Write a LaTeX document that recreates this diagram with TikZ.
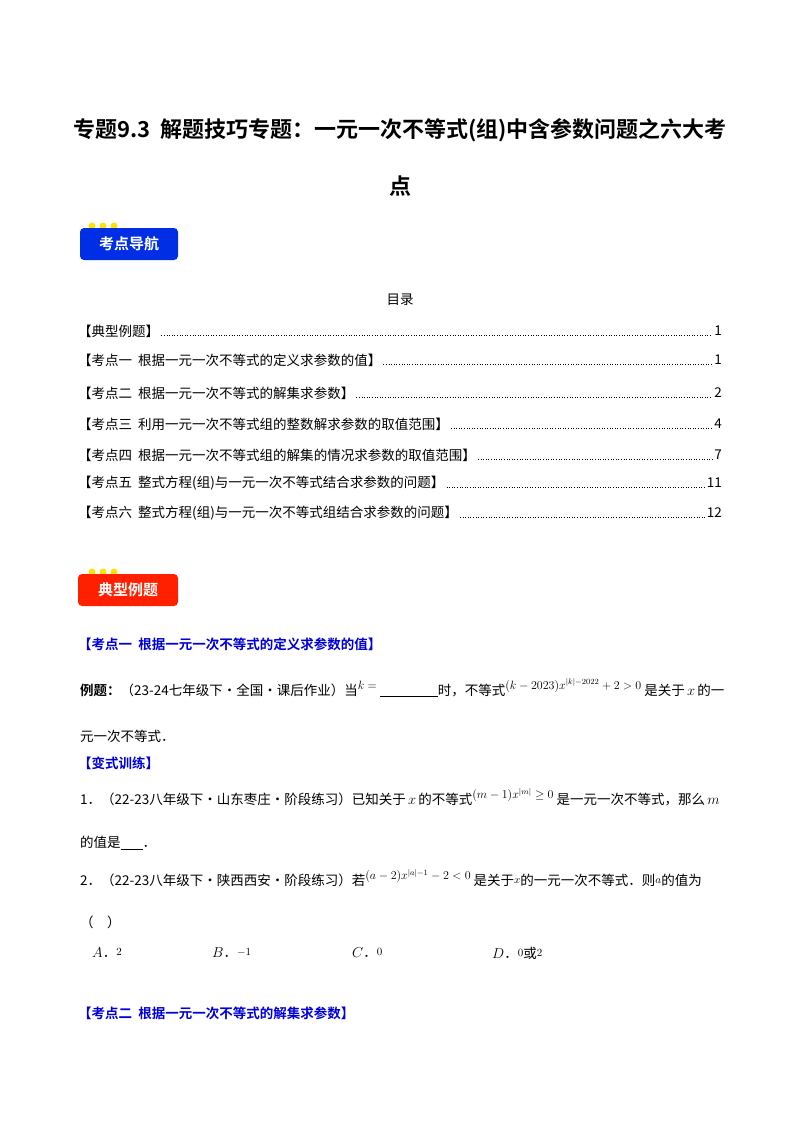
\documentclass[tikz,border=0pt]{standalone}
\usepackage{fontspec}
\setmainfont{Noto Sans CJK SC}
\newfontfamily\cjkb{Noto Sans CJK SC Bold}
\newcommand{\upm}[1]{\raisebox{6pt}{\fontsize{12}{14}\selectfont$#1$}}
\newcommand{\upn}[1]{\raisebox{2pt}{\fontsize{11}{13}\selectfont$#1$}}
\begin{document}
\begin{tikzpicture}[x=1pt,y=-1pt,
  txt/.style={anchor=west,inner sep=0pt,font=\fontsize{13.5}{15}\selectfont},
  blu/.style={txt,text=blue!85!black,font=\fontsize{13.5}{15}\selectfont\cjkb},
  num/.style={anchor=east,inner sep=0pt,font=\fontsize{13.5}{15}\selectfont},
  dots/.style={dotted,line width=0.6pt}]
\useasboundingbox[fill=white] (0,0) rectangle (800,1132);
\node[font=\fontsize{22}{26}\selectfont\cjkb,inner sep=0pt] (t1) at (400,130) {专题9.3\ \ 解题技巧专题：一元一次不等式(组)中含参数问题之六大考};
\node[font=\fontsize{22}{26}\selectfont\cjkb,inner sep=0pt] (t2) at (400,186) {点};
% badge 1
\foreach \xx in {92,103,114} \fill[yellow!85!orange] (\xx,226) circle (3.5);
\node[fill=blue!80!cyan!90!black,rounded corners=4pt,minimum width=98,minimum height=32,inner sep=0pt,text=white,font=\fontsize{15}{17}\selectfont\cjkb] (b1) at (129,244) {考点导航};
\node[txt,anchor=center] (ml) at (400,300) {目录};
\foreach \yy/\tt/\nn [count=\i] in {331/【典型例题】/1,
 360/【考点一\ \ 根据一元一次不等式的定义求参数的值】/1,
 393/【考点二\ \ 根据一元一次不等式的解集求参数】/2,
 424/【考点三\ \ 利用一元一次不等式组的整数解求参数的取值范围】/4,
 455/【考点四\ \ 根据一元一次不等式组的解集的情况求参数的取值范围】/7,
 483/【考点五\ \ 整式方程(组)与一元一次不等式结合求参数的问题】/11,
 513/【考点六\ \ 整式方程(组)与一元一次不等式组结合求参数的问题】/12}{
 \node[txt] (c\i) at (78,\yy) {\tt};
 \node[num] (n\i) at (722,\yy) {\nn};
 \draw[dots] ([xshift=2pt,yshift=-4pt]c\i.east) -- ([xshift=-2pt,yshift=-4pt]n\i.west);
}
% badge 2
\foreach \xx in {92,103,114} \fill[yellow!85!orange] (\xx,572) circle (3.5);
\node[fill=red!75!orange,rounded corners=4pt,minimum width=100,minimum height=32,inner sep=0pt,text=white,font=\fontsize{15}{17}\selectfont\cjkb] (b2) at (128,590) {典型例题};
\node[blu] (s1) at (78,644) {【考点一\ \ 根据一元一次不等式的定义求参数的值】};
\node[txt] (e1) at (80,688) {{\cjkb 例题：}（23-24七年级下·全国·课后作业）当\upm{k=}\ \underline{\hspace{58pt}}时，不等式\upm{(k-2023)x^{|k|-2022}+2>0}\ 是关于\,$x$\,的一};
\node[txt] (e2) at (80,736) {元一次不等式．};
\node[blu] (bs) at (78,763) {【变式训练】};
\node[txt] (q1) at (80,797) {1．（22-23八年级下·山东枣庄·阶段练习）已知关于\,$x$\,的不等式\upm{(m-1)x^{|m|}\geq 0}\ 是一元一次不等式，那么\,$m$};
\node[txt] (q1b) at (80,843) {的值是\underline{\hspace{22pt}}．};
\node[txt] (q2) at (80,878) {2．（22-23八年级下·陕西西安·阶段练习）若\upm{(a-2)x^{|a|-1}-2<0}\ 是关于\upn{x}的一元一次不等式．则\upn{a}的值为};
\node[txt] (q2b) at (80,922) {（\quad）};
\node[txt] (oa) at (92,953) {$A$．\upn{2}};
\node[txt] (ob) at (212,953) {$B$．\upn{-1}};
\node[txt] (oc) at (352,953) {$C$．\upn{0}};
\node[txt] (od) at (492,953) {$D$．\upn{0}或\upn{2}};
\node[blu] (s2) at (78,1013) {【考点二\ \ 根据一元一次不等式的解集求参数】};
\end{tikzpicture}
\end{document}
